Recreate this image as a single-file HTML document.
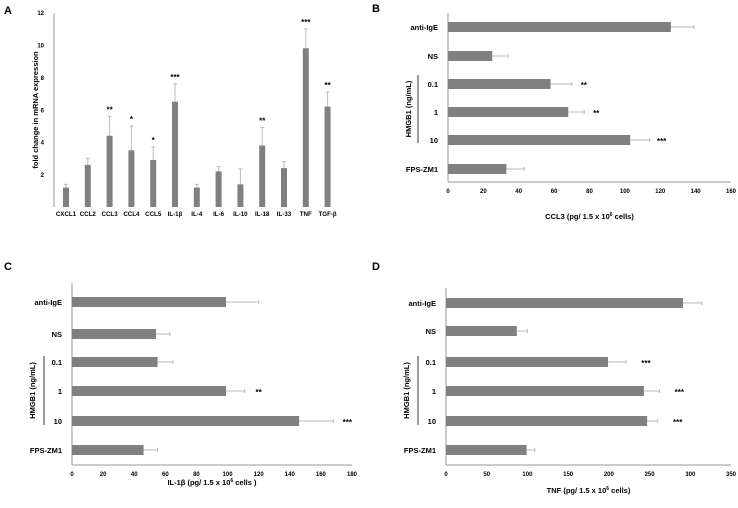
<!DOCTYPE html>
<html><head><meta charset="utf-8"><style>
body{margin:0;background:#fff;width:738px;height:503px;overflow:hidden}
svg{font-family:"Liberation Sans",sans-serif;font-weight:bold}
</style></head><body>
<svg id="c" width="738" height="503"></svg>
<script>
const aCats=["CXCL1","CCL2","CCL3","CCL4","CCL5","IL-1β","IL-4","IL-6","IL-10","IL-18","IL-33","TNF","TGF-β"];
const aVals=[1.2,2.6,4.4,3.5,2.9,6.5,1.2,2.2,1.4,3.8,2.4,9.8,6.2];
const aErr=[0.2,0.4,1.2,1.5,0.8,1.1,0.2,0.3,0.95,1.1,0.4,1.2,0.9];
const aSig=["","","**","*","*","***","","","","**","","***","**"];
const aTicks=[2,4,6,8,10,12];
const hCats=["anti-IgE","NS","0.1","1","10","FPS-ZM1"];
const bVals=[126,25,58,68,103,33];
const bErr=[13,9,12,9,11,10];
const bSig=["","","**","**","***",""];
const bTicks=[0,20,40,60,80,100,120,140,160];
const cVals=[99,54,55,99,146,46];
const cErr=[21,9,10,12,22,9];
const cSig=["","","","**","***",""];
const cTicks=[0,20,40,60,80,100,120,140,160,180];
const dVals=[291,87,199,243,247,99];
const dErr=[23,13,22,19,13,10];
const dSig=["","","***","***","***",""];
const dTicks=[0,50,100,150,200,250,300,350];

const svg=document.getElementById('c');
const NS="http://www.w3.org/2000/svg";
function mk(tag,attrs,txt){const e=document.createElementNS(NS,tag);for(const k in attrs)e.setAttribute(k,attrs[k]);if(txt!==undefined)e.textContent=txt;svg.appendChild(e);return e;}
const BAR="#808080",ERR="#bbbbbb";

// panel letters
[["A",4,14],["B",372,12],["C",4,270],["D",372,270]].forEach(p=>{
 const t=mk('text',{x:p[1],y:p[2],'font-size':11},p[0]);
 
 
});

// Panel A
(function(){
 const x0=54,yb=207,ppu=16.2,sp=21.8,first=66,bw=6;
 const y=v=>yb-v*ppu, xc=i=>first+i*sp;
 let l=mk('line',{x1:x0,y1:13,x2:x0,y2:yb,stroke:'#999','stroke-width':1});
 
 aTicks.forEach(t=>{const e=mk('text',{x:x0-10,y:y(t)+2.5,'font-size':6,'text-anchor':'end'},t);
  });
 aCats.forEach((c,i)=>{
  const v=aVals[i],e=aErr[i];
  const ln=mk('line',{x1:xc(i),x2:xc(i),y1:y(v),y2:y(v+e),stroke:ERR,'stroke-width':1});
  
  const cp=mk('line',{x1:xc(i)-2,x2:xc(i)+2,y1:y(v+e),y2:y(v+e),stroke:ERR,'stroke-width':1});
  
  const r=mk('rect',{x:xc(i)-bw/2,y:y(v),width:bw,height:v*ppu,fill:BAR});
  
  const t=mk('text',{x:xc(i),y:216,'font-size':6.2,'text-anchor':'middle'},c);
  
  if(aSig[i]){const s=mk('text',{x:xc(i),y:y(v+e)-4,'font-size':8,'text-anchor':'middle'},aSig[i]);
   }
 });
 const yt=mk('text',{x:0,y:0,'font-size':7.5,'text-anchor':'middle',transform:'translate(38,110) rotate(-90)'},'fold change in mRNA expression');
 
})();

function hpanel(id,vals,errs,sig,ticks,max,x0,x1,ytop,ybot,centers,title,titleY,sigX,grpX,lineX,grpTop,grpBot){
 const x=v=>x0+v/max*(x1-x0);
 let a=mk('line',{x1:x0,y1:ytop,x2:x0,y2:ybot,stroke:'#999'});
 
 a=mk('line',{x1:x0,y1:ybot,x2:x1,y2:ybot,stroke:'#999'});
 
 ticks.forEach(t=>{const e=mk('text',{x:x(t),y:ybot+11,'font-size':6,'text-anchor':'middle'},t);
  });
 hCats.forEach((c,i)=>{
  const cy=centers[i],v=vals[i],e=errs[i];
  const ln=mk('line',{x1:x(v),x2:x(v+e),y1:cy,y2:cy,stroke:ERR});
  
  const cp=mk('line',{x1:x(v+e),x2:x(v+e),y1:cy-2,y2:cy+2,stroke:ERR});
  
  const r=mk('rect',{x:x0,y:cy-5,width:x(v)-x0,height:10,fill:BAR});
  
  const t=mk('text',{x:x0-10,y:cy+3,'font-size':7.5,'text-anchor':'end'},c);
  
  if(sig[i]){const s=mk('text',{x:x(v+e)+sigX,y:cy+4,'font-size':8,'text-anchor':'middle'},sig[i]);
   }
 });
 const g=mk('text',{x:0,y:0,'font-size':7.5,'text-anchor':'middle',transform:`translate(${grpX},${(grpTop+grpBot)/2}) rotate(-90)`},'HMGB1 (ng/mL)');
 
 const gl=mk('line',{x1:lineX,x2:lineX,y1:grpTop,y2:grpBot,stroke:'#333'});
 
 const tt=mk('text',{x:(x0+x1)/2,y:titleY,'font-size':7.5,'text-anchor':'middle'});
 
 tt.innerHTML=title;
}
hpanel('b',bVals,bErr,bSig,bTicks,160,448,731,13,182,[27,56,84,112,140,169],
 'CCL3 (pg/ 1.5 x 10<tspan dy="-3" font-size="5">6</tspan><tspan dy="3"> cells)</tspan>',219,12,411,418,75,143);
hpanel('c',cVals,cErr,cSig,cTicks,180,72,352,283,465,[302,334,362,391,421,450],
 'IL-1β (pg/ 1.5 x 10<tspan dy="-3" font-size="5">6</tspan><tspan dy="3"> cells )</tspan>',485,14,35,44,356,425);
hpanel('d',dVals,dErr,dSig,dTicks,350,446,731,288,465,[303,331,362,391,421,450],
 'TNF (pg/ 1.5 x 10<tspan dy="-3" font-size="5">6</tspan><tspan dy="3"> cells)</tspan>',493,20,409,418,356,425);
</script>
</body></html>
